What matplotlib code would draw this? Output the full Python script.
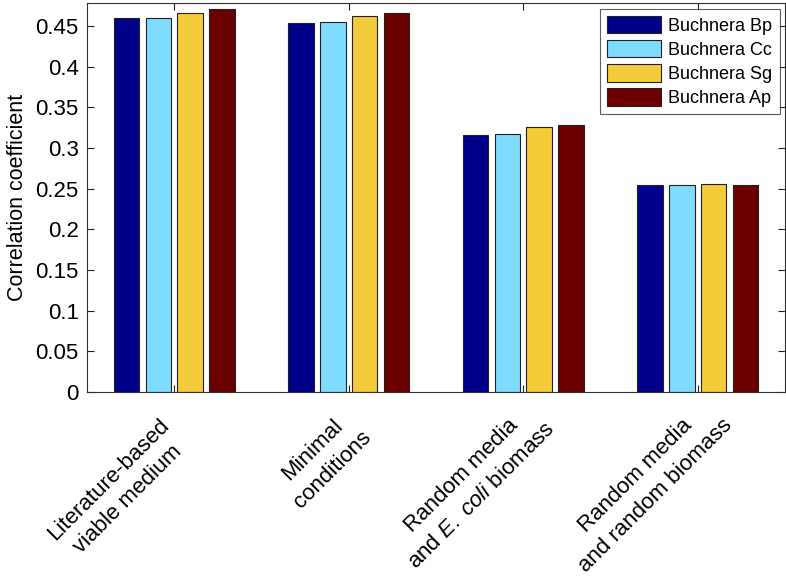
import numpy as np
import matplotlib
matplotlib.use('Agg')
import matplotlib.pyplot as plt
from matplotlib.transforms import ScaledTranslation

plt.rcParams['font.family'] = ['Liberation Sans', 'DejaVu Sans']
plt.rcParams['mathtext.fontset'] = 'custom'
plt.rcParams['mathtext.it'] = 'Liberation Sans:italic'
plt.rcParams['mathtext.rm'] = 'Liberation Sans'

categories = ['Literature-based\nviable medium',
              'Minimal\nconditions',
              'Random media\nand $\\mathit{E.\\ coli}$ biomass',
              'Random media\nand random biomass']
series = ['Buchnera Bp', 'Buchnera Cc', 'Buchnera Sg', 'Buchnera Ap']
bp = [0.460, 0.4535, 0.316, 0.254]
cc = [0.460, 0.455, 0.317, 0.254]
sg = [0.466, 0.462, 0.326, 0.256]
ap = [0.471, 0.466, 0.328, 0.254]
colors = ['#00008C', '#80DCFF', '#F4CB38', '#6C0000']

values = [bp, cc, sg, ap]
x = np.arange(1, len(categories) + 1)
group_w = min(0.8, 4 / (4 + 1.5))
step = group_w / 4
bar_w = 0.8 * step

fig = plt.figure(figsize=(7.86, 5.77), dpi=100)
ax = fig.add_axes([0.1107, 0.3206, 0.888, 0.674])

for i, (vals, name, col) in enumerate(zip(values, series, colors)):
    offs = (i - 1.5) * step
    ax.bar(x + offs, vals, width=bar_w, color=col, edgecolor='#222222',
           linewidth=0.8, label=name)

ax.set_xlim(0.5, 4.5)
ax.set_ylim(0, 0.478)
ax.set_yticks(np.arange(0, 0.451, 0.05))
ax.set_yticklabels(['0', '0.05', '0.1', '0.15', '0.2', '0.25', '0.3',
                    '0.35', '0.4', '0.45'])
ax.set_xticks(x)
ax.set_xticklabels([])
ax.tick_params(axis='both', direction='in', length=5, width=0.8,
               top=True, right=True, colors='#222222', labelcolor='black')
ax.tick_params(axis='y', labelsize=16, pad=6)
for s in ax.spines.values():
    s.set_color('#333333')
    s.set_linewidth(0.8)

# rotated category labels: first line ends at the tick, lines centred
fs = 16
renderer = fig.canvas.get_renderer()


def text_width(s):
    t = fig.text(0, 0, s, fontsize=fs)
    w = t.get_window_extent(renderer).width
    t.remove()
    return w


c45 = np.cos(np.pi / 4)
for xi, cat in zip(x, categories):
    lines = cat.split('\n')
    w1 = text_width(lines[0])
    wmax = max(text_width(l) for l in lines)
    shift = (wmax - w1) / 2
    dx = (shift * c45 - 16) / 100
    dy = (shift * c45 - 23) / 100
    tr = ax.get_xaxis_transform() + ScaledTranslation(dx, dy, fig.dpi_scale_trans)
    ax.text(xi, 0, cat, transform=tr, rotation=45, rotation_mode='anchor',
            ha='right', va='top', multialignment='center', fontsize=fs,
            linespacing=1.45)

ax.set_ylabel('Correlation coefficient', fontsize=15.5, labelpad=5)

leg = ax.legend(loc='upper right', fontsize=13, frameon=True, fancybox=False,
                edgecolor='#333333', handlelength=3.0, handleheight=1.1,
                borderaxespad=0.3, labelspacing=0.3, handletextpad=0.4,
                borderpad=0.4)
leg.get_frame().set_linewidth(0.8)

fig.savefig('out.png', dpi=100)
plt.close()
